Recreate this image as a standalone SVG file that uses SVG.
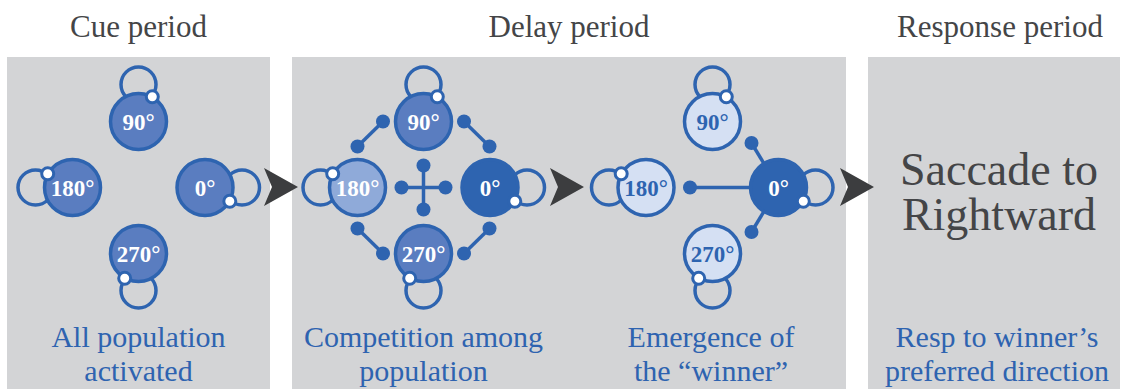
<svg xmlns="http://www.w3.org/2000/svg" xmlns:xlink="http://www.w3.org/1999/xlink" width="1126" height="389" viewBox="0 0 1126 389">
  <style>
    .panel { fill: #D3D4D6; }
    .head { font-family: "Liberation Serif", "Times New Roman", serif; font-size: 31px; fill: #444547; text-anchor: middle; }
    .caption { font-family: "Liberation Serif", "Times New Roman", serif; font-size: 30px; fill: #2E63B0; text-anchor: middle; }
    .big { font-family: "Liberation Serif", "Times New Roman", serif; font-size: 46px; fill: #444547; text-anchor: middle; }
    .node { stroke: #2E64B0; stroke-width: 3.5; }
    .mid { fill: #5A7DC0; }
    .pale { fill: #8FAAD9; }
    .faint { fill: #D5E0F3; }
    .strong { fill: #2E64B0; }
    .lbl { font-family: "Liberation Serif", "Times New Roman", serif; font-weight: bold; font-size: 23px; fill: #FFFFFF; text-anchor: middle; }
    .lbl.dark { fill: #2E64B0; }
    .loop { fill: none; stroke: #2E64B0; stroke-width: 3.5; }
    .tip { fill: #FFFFFF; stroke: #2E64B0; stroke-width: 3; }
    .inh { stroke: #2E64B0; stroke-width: 3.5; fill: none; }
    .knob { fill: #2E64B0; }
    .step { fill: #3C3D3F; }
  </style>
  <defs>
    <!-- self-excitation loop, pointing up; rotate per node -->
    <circle id="loop" class="loop" cx="0" cy="-37" r="17.5"/>
    <circle id="tip" class="tip" cx="13.8" cy="-24.8" r="6"/>
    <circle id="knob" class="knob" r="7"/>
    <path id="chev" class="step" d="M0,-19 L34,0 L0,19 L8,0 Z"/>
  </defs>

  <!-- backgrounds -->
  <rect class="panel" x="7" y="57" width="263" height="332"/>
  <rect class="panel" x="292" y="57" width="554" height="332"/>
  <rect class="panel" x="868" y="57" width="252" height="332"/>

  <!-- period headings -->
  <text class="head" x="138.5" y="36.5">Cue period</text>
  <text class="head" x="569" y="36.5">Delay period</text>
  <text class="head" x="1000" y="36.5">Response period</text>

  <!-- inhibitory links and stage arrows -->
  <g id="connectors">
    <!-- competition: ring of mutual inhibition -->
    <g class="inh">
      <line x1="383" y1="121.5" x2="357.5" y2="146.5"/>
      <line x1="464" y1="121.5" x2="489.5" y2="146.5"/>
      <line x1="357.5" y1="228.5" x2="383" y2="253.5"/>
      <line x1="489.5" y1="228.5" x2="464" y2="253.5"/>
      <line x1="423.5" y1="165.5" x2="423.5" y2="209.5"/>
      <line x1="401.5" y1="187.5" x2="445.5" y2="187.5"/>
      <!-- winner suppresses the rest -->
      <line x1="690" y1="187.5" x2="778.5" y2="187.5"/>
      <line x1="751.5" y1="143" x2="778.5" y2="187.5"/>
      <line x1="751.5" y1="232" x2="778.5" y2="187.5"/>
    </g>
    <use href="#knob" x="383" y="121.5"/>
    <use href="#knob" x="357.5" y="146.5"/>
    <use href="#knob" x="464" y="121.5"/>
    <use href="#knob" x="489.5" y="146.5"/>
    <use href="#knob" x="357.5" y="228.5"/>
    <use href="#knob" x="383" y="253.5"/>
    <use href="#knob" x="489.5" y="228.5"/>
    <use href="#knob" x="464" y="253.5"/>
    <use href="#knob" x="423.5" y="165.5"/>
    <use href="#knob" x="423.5" y="209.5"/>
    <use href="#knob" x="401.5" y="187.5"/>
    <use href="#knob" x="445.5" y="187.5"/>
    <use href="#knob" x="690" y="187.5"/>
    <use href="#knob" x="751.5" y="143"/>
    <use href="#knob" x="751.5" y="232"/>

    <use href="#chev" x="264" y="187"/>
    <use href="#chev" x="550" y="187"/>
    <use href="#chev" x="840" y="187"/>
  </g>

  <!-- cue period: all populations active -->
  <g id="cue-90" transform="translate(138.5,121.5)">
    <use href="#loop"/><circle class="node mid" r="28"/><use href="#tip"/>
    <text class="lbl" y="8">90°</text>
  </g>
  <g id="cue-0" transform="translate(205,187.5)">
    <use href="#loop" transform="rotate(90)"/><circle class="node mid" r="28"/><use href="#tip" transform="rotate(90)"/>
    <text class="lbl" y="8">0°</text>
  </g>
  <g id="cue-270" transform="translate(138.5,253.5)">
    <use href="#loop" transform="rotate(180)"/><circle class="node mid" r="28"/><use href="#tip" transform="rotate(180)"/>
    <text class="lbl" y="8">270°</text>
  </g>
  <g id="cue-180" transform="translate(72.5,187.5)">
    <use href="#loop" transform="rotate(270)"/><circle class="node mid" r="28"/><use href="#tip" transform="rotate(270)"/>
    <text class="lbl" y="8">180°</text>
  </g>

  <!-- delay period: competition -->
  <g id="comp-90" transform="translate(423.5,121.5)">
    <use href="#loop"/><circle class="node mid" r="28"/><use href="#tip"/>
    <text class="lbl" y="8">90°</text>
  </g>
  <g id="comp-0" transform="translate(490,187.5)">
    <use href="#loop" transform="rotate(90)"/><circle class="node strong" r="28"/><use href="#tip" transform="rotate(90)"/>
    <text class="lbl" y="8">0°</text>
  </g>
  <g id="comp-270" transform="translate(423.5,253.5)">
    <use href="#loop" transform="rotate(180)"/><circle class="node mid" r="28"/><use href="#tip" transform="rotate(180)"/>
    <text class="lbl" y="8">270°</text>
  </g>
  <g id="comp-180" transform="translate(357.5,187.5)">
    <use href="#loop" transform="rotate(270)"/><circle class="node pale" r="28"/><use href="#tip" transform="rotate(270)"/>
    <text class="lbl" y="8">180°</text>
  </g>

  <!-- delay period: winner emerges -->
  <g id="win-90" transform="translate(712.5,121.5)">
    <use href="#loop"/><circle class="node faint" r="28"/><use href="#tip"/>
    <text class="lbl dark" y="8">90°</text>
  </g>
  <g id="win-0" transform="translate(778.5,187.5)">
    <use href="#loop" transform="rotate(90)"/><circle class="node strong" r="28"/><use href="#tip" transform="rotate(90)"/>
    <text class="lbl" y="8">0°</text>
  </g>
  <g id="win-270" transform="translate(712.5,253.5)">
    <use href="#loop" transform="rotate(180)"/><circle class="node faint" r="28"/><use href="#tip" transform="rotate(180)"/>
    <text class="lbl dark" y="8">270°</text>
  </g>
  <g id="win-180" transform="translate(646,187.5)">
    <use href="#loop" transform="rotate(270)"/><circle class="node faint" r="28"/><use href="#tip" transform="rotate(270)"/>
    <text class="lbl dark" y="8">180°</text>
  </g>

  <!-- response -->
  <g id="response">
    <text class="big" x="999" y="185">Saccade to</text>
    <text class="big" x="999" y="230">Rightward</text>
  </g>

  <!-- captions -->
  <text class="caption" x="138.5" y="347">All population</text>
  <text class="caption" x="138.5" y="381">activated</text>
  <text class="caption" x="423.5" y="347">Competition among</text>
  <text class="caption" x="423.5" y="381">population</text>
  <text class="caption" x="711" y="347">Emergence of</text>
  <text class="caption" x="711" y="381">the “winner”</text>
  <text class="caption" x="997" y="347">Resp to winner’s</text>
  <text class="caption" x="997" y="381">preferred direction</text>
</svg>
